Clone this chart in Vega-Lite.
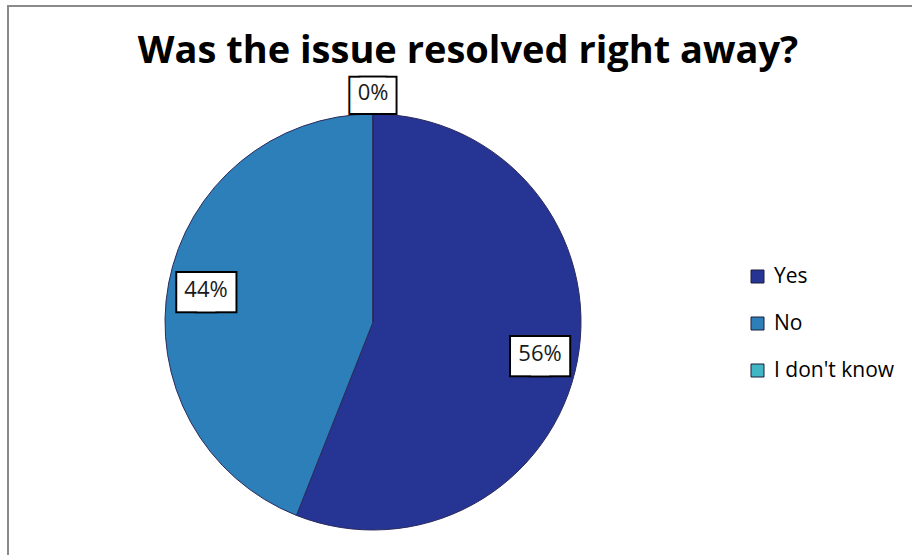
{
  "$schema": "https://vega.github.io/schema/vega-lite/v6.json",
  "width": 920,
  "height": 560,
  "autosize": {"type": "none"},
  "padding": {"left": 8, "top": 6, "right": 0, "bottom": 0},
  "background": "white",
  "config": {"view": {"stroke": null}, "font": "Open Sans"},
  "title": {"text": "Was the issue resolved right away?", "font": "Open Sans", "fontWeight": "bold", "fontSize": 38, "color": "black", "anchor": "middle", "frame": "group", "orient": "top", "offset": -96, "baseline": "alphabetic"},
  "data": {"values": [
    {"category": "Yes", "value": 0.56, "order": 1},
    {"category": "No", "value": 0.44, "order": 2},
    {"category": "I don't know", "value": 0, "order": 3}
  ]},
  "layer": [
    {"mark": {"type": "rect", "filled": false, "color": "#8a8a8a", "strokeWidth": 2}, "encoding": {}},
    {
      "encoding": {
        "theta": {"field": "value", "type": "quantitative", "stack": true},
        "order": {"field": "order", "type": "quantitative"}
      },
      "layer": [
        {
          "mark": {"type": "arc", "x": 365, "y": 316, "outerRadius": 208, "stroke": "#2b2b5c", "strokeWidth": 1},
          "encoding": {
            "color": {
              "field": "category", "type": "nominal",
              "scale": {"domain": ["Yes", "No", "I don't know"], "range": ["#263494", "#2c7fb8", "#41b6c4"]},
              "legend": {"title": null, "orient": "none", "legendX": 739, "legendY": 260, "symbolType": "square", "symbolSize": 169, "symbolStrokeColor": "#1c1c3c", "symbolStrokeWidth": 1, "labelFont": "Open Sans", "labelFontSize": 21, "labelColor": "black", "rowPadding": 25, "labelOffset": 6, "padding": 0}
            }
          }
        },
        {"transform": [{"filter": {"field": "category", "oneOf": ["Yes", "No"]}}],
         "mark": {"type": "text", "text": "■", "x": 365, "y": 316, "radius": 170, "dx": -10, "font": "DejaVu Sans", "fontSize": 50, "fill": "black", "stroke": "black", "strokeWidth": 4, "align": "center", "baseline": "middle"}},
        {"transform": [{"filter": {"field": "category", "oneOf": ["Yes", "No"]}}],
         "mark": {"type": "text", "text": "■", "x": 365, "y": 316, "radius": 170, "dx": 10, "font": "DejaVu Sans", "fontSize": 50, "fill": "black", "stroke": "black", "strokeWidth": 4, "align": "center", "baseline": "middle"}},
        {"transform": [{"filter": {"field": "category", "oneOf": ["Yes", "No"]}}],
         "mark": {"type": "text", "text": "■", "x": 365, "y": 316, "radius": 170, "dx": -10, "font": "DejaVu Sans", "fontSize": 50, "fill": "white", "align": "center", "baseline": "middle"}},
        {"transform": [{"filter": {"field": "category", "oneOf": ["Yes", "No"]}}],
         "mark": {"type": "text", "text": "■", "x": 365, "y": 316, "radius": 170, "dx": 10, "font": "DejaVu Sans", "fontSize": 50, "fill": "white", "align": "center", "baseline": "middle"}},
        {"transform": [{"filter": {"field": "category", "oneOf": ["Yes", "No"]}}],
         "mark": {"type": "text", "x": 365, "y": 316, "radius": 170, "font": "Open Sans", "fontSize": 22, "fill": "#1a1a1a", "align": "center", "baseline": "middle"},
         "encoding": {"text": {"field": "value", "type": "quantitative", "format": ".0%"}}},
        {"transform": [{"filter": {"field": "category", "equal": "I don't know"}}],
         "mark": {"type": "text", "text": "■", "x": 365, "y": 316, "radius": 229, "dx": -5, "font": "DejaVu Sans", "fontSize": 46, "fill": "black", "stroke": "black", "strokeWidth": 4, "align": "center", "baseline": "middle"}},
        {"transform": [{"filter": {"field": "category", "equal": "I don't know"}}],
         "mark": {"type": "text", "text": "■", "x": 365, "y": 316, "radius": 229, "dx": 5, "font": "DejaVu Sans", "fontSize": 46, "fill": "black", "stroke": "black", "strokeWidth": 4, "align": "center", "baseline": "middle"}},
        {"transform": [{"filter": {"field": "category", "equal": "I don't know"}}],
         "mark": {"type": "text", "text": "■", "x": 365, "y": 316, "radius": 229, "dx": -5, "font": "DejaVu Sans", "fontSize": 46, "fill": "white", "align": "center", "baseline": "middle"}},
        {"transform": [{"filter": {"field": "category", "equal": "I don't know"}}],
         "mark": {"type": "text", "text": "■", "x": 365, "y": 316, "radius": 229, "dx": 5, "font": "DejaVu Sans", "fontSize": 46, "fill": "white", "align": "center", "baseline": "middle"}},
        {"transform": [{"filter": {"field": "category", "equal": "I don't know"}}],
         "mark": {"type": "text", "x": 365, "y": 316, "radius": 229, "font": "Open Sans", "fontSize": 22, "fill": "#1a1a1a", "align": "center", "baseline": "middle"},
         "encoding": {"text": {"field": "value", "type": "quantitative", "format": ".0%"}}}
      ]
    }
  ]
}
